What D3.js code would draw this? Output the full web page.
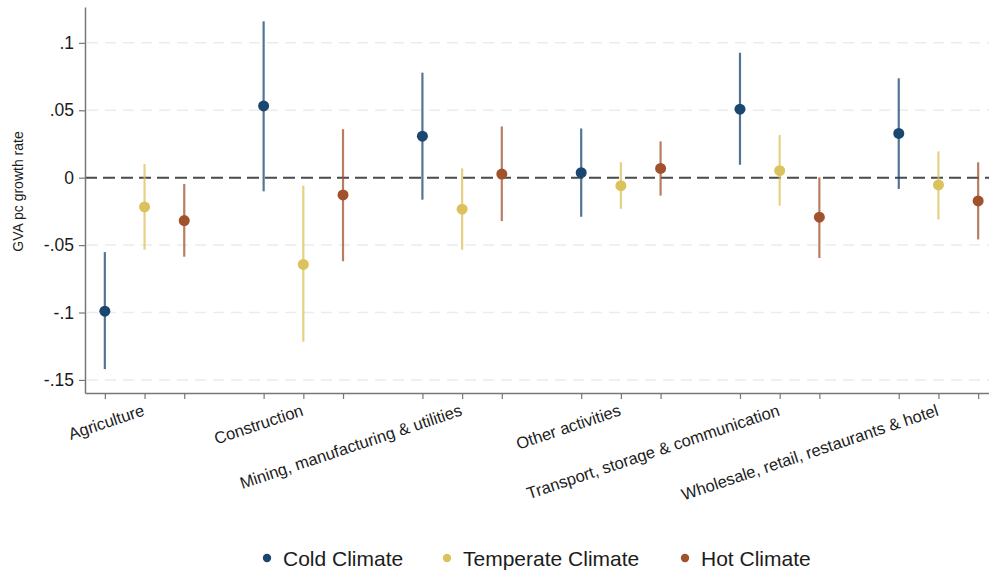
<!DOCTYPE html>
<html>
<head>
<meta charset="utf-8">
<script src="https://cdn.jsdelivr.net/npm/d3@7"></script>
<style>
  html, body { margin: 0; padding: 0; background: #fff; }
  svg { display: block; font-family: "Liberation Sans", Arial, sans-serif; }
</style>
</head>
<body>
<svg id="chart" width="989" height="574"></svg>
<script>
// Sectors and climate groups
const sectors = [
  "Agriculture",
  "Construction",
  "Mining, manufacturing & utilities",
  "Other activities",
  "Transport, storage & communication",
  "Wholesale, retail, restaurants & hotel"
];
const climates = ["Cold Climate", "Temperate Climate", "Hot Climate"];
const climateColors = ["#1a476f", "#dcc25d", "#a0522d"];

// Point estimates per climate (one value per sector)
const coldEst      = [-0.099,  0.0532,  0.0308,  0.0037,  0.0508,  0.0328];
const temperateEst = [-0.0217, -0.0643, -0.0234, -0.0059,  0.0052, -0.0054];
const hotEst       = [-0.0318, -0.0128,  0.0027,  0.0069, -0.0293, -0.0172];

// Confidence interval bounds
const coldLo      = [-0.142, -0.0101, -0.0163, -0.029,  0.0096, -0.0084];
const coldHi      = [-0.0552, 0.116,   0.0779,  0.0365,  0.0927,  0.0737];
const temperateLo = [-0.0534, -0.1216, -0.0534, -0.0231, -0.0207, -0.031];
const temperateHi = [ 0.0101, -0.0059,  0.0069,  0.0114,  0.0316,  0.0195];
const hotLo       = [-0.0586, -0.062,  -0.0322, -0.0133, -0.0596, -0.0458];
const hotHi       = [-0.0047,  0.036,   0.038,   0.0269,  0.0003,  0.0114];

const yTicks = [-0.15, -0.1, -0.05, 0, 0.05, 0.1];
const yTickLabels = ["-.15", "-.1", "-.05", "0", ".05", ".1"];

const estimates = [coldEst, temperateEst, hotEst];
const lows = [coldLo, temperateLo, hotLo];
const highs = [coldHi, temperateHi, hotHi];

// Each sector occupies slots 4g+1..4g+3, with an empty slot between groups
const rows = [];
sectors.forEach((s, g) => {
  climates.forEach((c, k) => {
    rows.push({ sector: s, climate: k, pos: g * 4 + k + 1,
      est: estimates[k][g], lo: lows[k][g], hi: highs[k][g] });
  });
});

const svg = d3.select("#chart");
const plotLeft = 85, plotRight = 998, plotTop = 7, plotBottom = 393;
const textColor = "#1c1c1c";

const x = d3.scaleLinear().domain([0.5, 23.5]).range([plotLeft, plotRight]);
const y = d3.scaleLinear().domain([-0.1597, 0.1266]).range([plotBottom, plotTop]);

// Gridlines
svg.append("g").selectAll("line")
  .data(yTicks.filter(v => v !== 0))
  .join("line")
  .attr("x1", plotLeft + 2).attr("x2", plotRight)
  .attr("y1", d => y(d)).attr("y2", d => y(d))
  .attr("stroke", "#ececec").attr("stroke-width", 1.5)
  .attr("stroke-dasharray", "11,7");

// Zero reference line
svg.append("line")
  .attr("x1", plotLeft).attr("x2", plotRight)
  .attr("y1", y(0)).attr("y2", y(0))
  .attr("stroke", "#4a4a4a").attr("stroke-width", 2)
  .attr("stroke-dasharray", "12,6");

// Y axis
const yAxis = d3.axisLeft(y).tickValues(yTicks)
  .tickFormat((d, i) => yTickLabels[i]).tickSize(6).tickPadding(5).tickSizeOuter(0);
const gy = svg.append("g").attr("transform", `translate(${plotLeft},0)`).call(yAxis);
gy.select(".domain").attr("stroke", "#777").attr("stroke-width", 1.5);
gy.selectAll(".tick line").attr("stroke", "#777").attr("stroke-width", 1.2);
gy.selectAll(".tick text").attr("font-size", 17.5).attr("fill", textColor)
  .attr("font-family", "'Liberation Sans', Arial, sans-serif");

// X axis: ticks at every estimate slot, labels on the middle slot of each group
const tickPositions = rows.map(r => r.pos);
const xAxis = d3.axisBottom(x).tickValues(tickPositions)
  .tickFormat("").tickSize(6).tickSizeOuter(0);
const gx = svg.append("g").attr("transform", `translate(0,${plotBottom})`).call(xAxis);
gx.select(".domain").attr("stroke", "#777").attr("stroke-width", 1.5);
gx.selectAll(".tick line").attr("stroke", "#777").attr("stroke-width", 1.2);

svg.append("g").selectAll("text")
  .data(sectors)
  .join("text")
  .attr("transform", (d, g) => `translate(${x(g * 4 + 2) + 1},${plotBottom + 22}) rotate(-18.5)`)
  .attr("text-anchor", "end")
  .attr("font-size", 16.5)
  .attr("fill", textColor)
  .text(d => d);

// Y axis title
svg.append("text")
  .attr("transform", `translate(23,${191.5}) rotate(-90)`)
  .attr("text-anchor", "middle")
  .attr("font-size", 14)
  .attr("fill", textColor)
  .text("GVA pc growth rate");

// Confidence intervals
svg.append("g").selectAll("line")
  .data(rows)
  .join("line")
  .attr("x1", d => x(d.pos)).attr("x2", d => x(d.pos))
  .attr("y1", d => y(d.lo)).attr("y2", d => y(d.hi))
  .attr("stroke", d => climateColors[d.climate])
  .attr("stroke-opacity", 0.75)
  .attr("stroke-width", 2.2);

// Point estimates
svg.append("g").selectAll("circle")
  .data(rows)
  .join("circle")
  .attr("cx", d => x(d.pos)).attr("cy", d => y(d.est))
  .attr("r", 5.5)
  .attr("fill", d => climateColors[d.climate]);

// Legend
const legendX = [267, 447, 685];
const legend = svg.append("g").selectAll("g")
  .data(climates)
  .join("g")
  .attr("transform", (d, i) => `translate(${legendX[i]},558)`);
legend.append("circle").attr("r", 4.2).attr("fill", (d, i) => climateColors[i]);
legend.append("text")
  .attr("x", 16).attr("dy", "0.36em")
  .attr("font-size", 21)
  .attr("fill", textColor)
  .text(d => d);
</script>
</body>
</html>
